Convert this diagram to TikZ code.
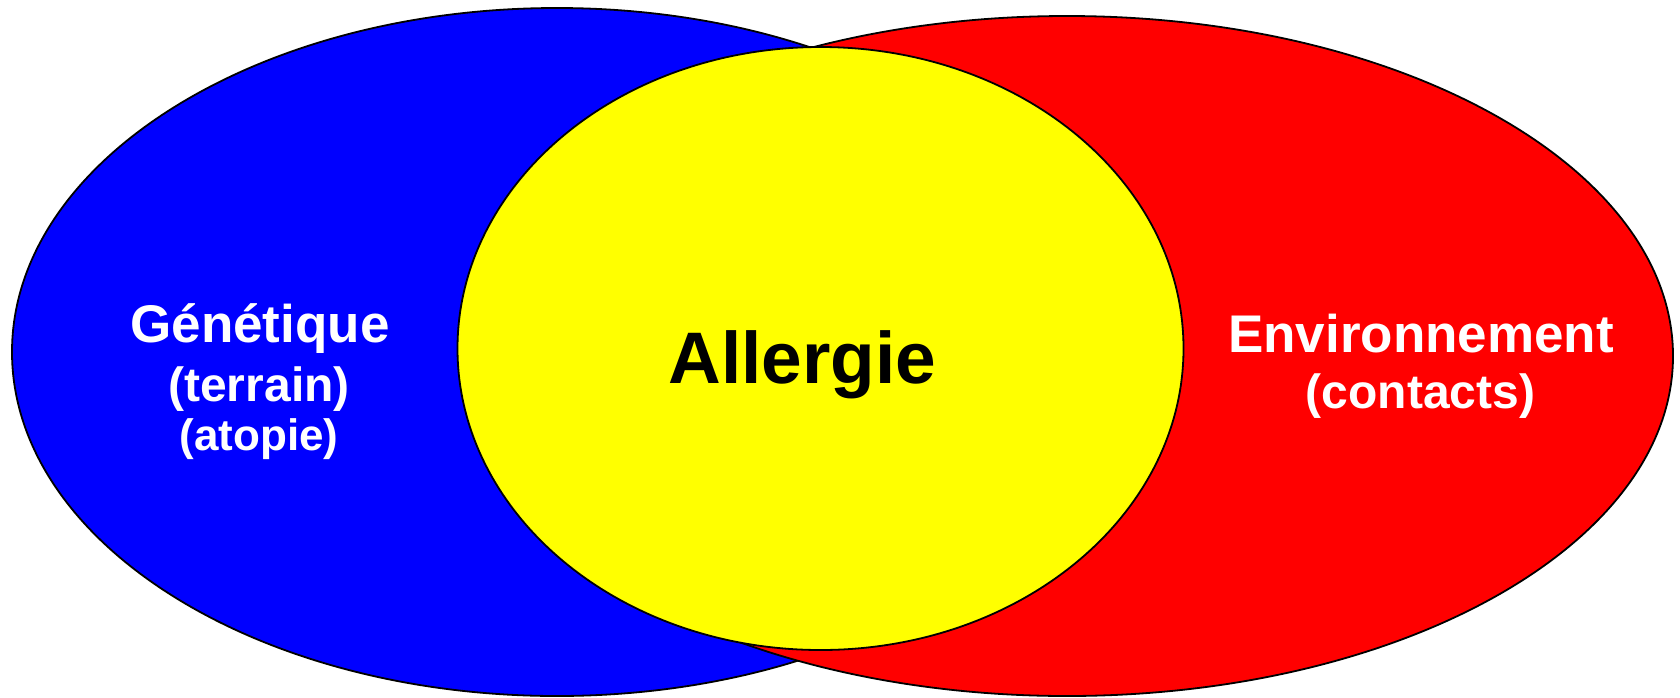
\documentclass[tikz,border=0pt]{standalone}
\usepackage{fontspec}
\setmainfont{Liberation Sans}
\usetikzlibrary{shapes.geometric}
\definecolor{vblue}{RGB}{0,0,255}
\definecolor{vred}{RGB}{255,0,0}
\definecolor{vyellow}{RGB}{255,255,0}
\tikzset{
  blob/.style={ellipse, draw=black, line width=0.9pt, inner sep=0pt, outer sep=0pt},
  lbl/.style={anchor=base, text=white, inner sep=0pt},
}
\begin{document}
\begin{tikzpicture}[x=0.5pt, y=-0.5pt]
\useasboundingbox (0,0) rectangle (1680,697);
\node[blob, fill=vblue, minimum width=545pt, minimum height=344pt] (gen) at (557,352) {};
\node[blob, fill=vred, minimum width=606pt, minimum height=340pt] (env) at (1067,356) {};
\node[blob, fill=vyellow, minimum width=363pt, minimum height=301.5pt] (all) at (820.5,348.5) {};
\node[lbl, font=\fontsize{26.5}{30}\bfseries\selectfont] (t1) at (260,342) {Génétique};
\node[lbl, font=\fontsize{24}{28}\bfseries\selectfont] (t2) at (259,401.5) {(terrain)};
\node[lbl, font=\fontsize{22}{26}\bfseries\selectfont] (t3) at (259,450) {(atopie)};
\node[lbl, text=black, font=\fontsize{36.5}{40}\bfseries\selectfont] (t4) at (802.5,383) {Allergie};
\node[lbl, font=\fontsize{26.5}{30}\bfseries\selectfont] (t5) at (1421,352) {Environnement};
\node[lbl, font=\fontsize{24}{28}\bfseries\selectfont] (t6) at (1420.5,408) {(contacts)};
\end{tikzpicture}
\end{document}
